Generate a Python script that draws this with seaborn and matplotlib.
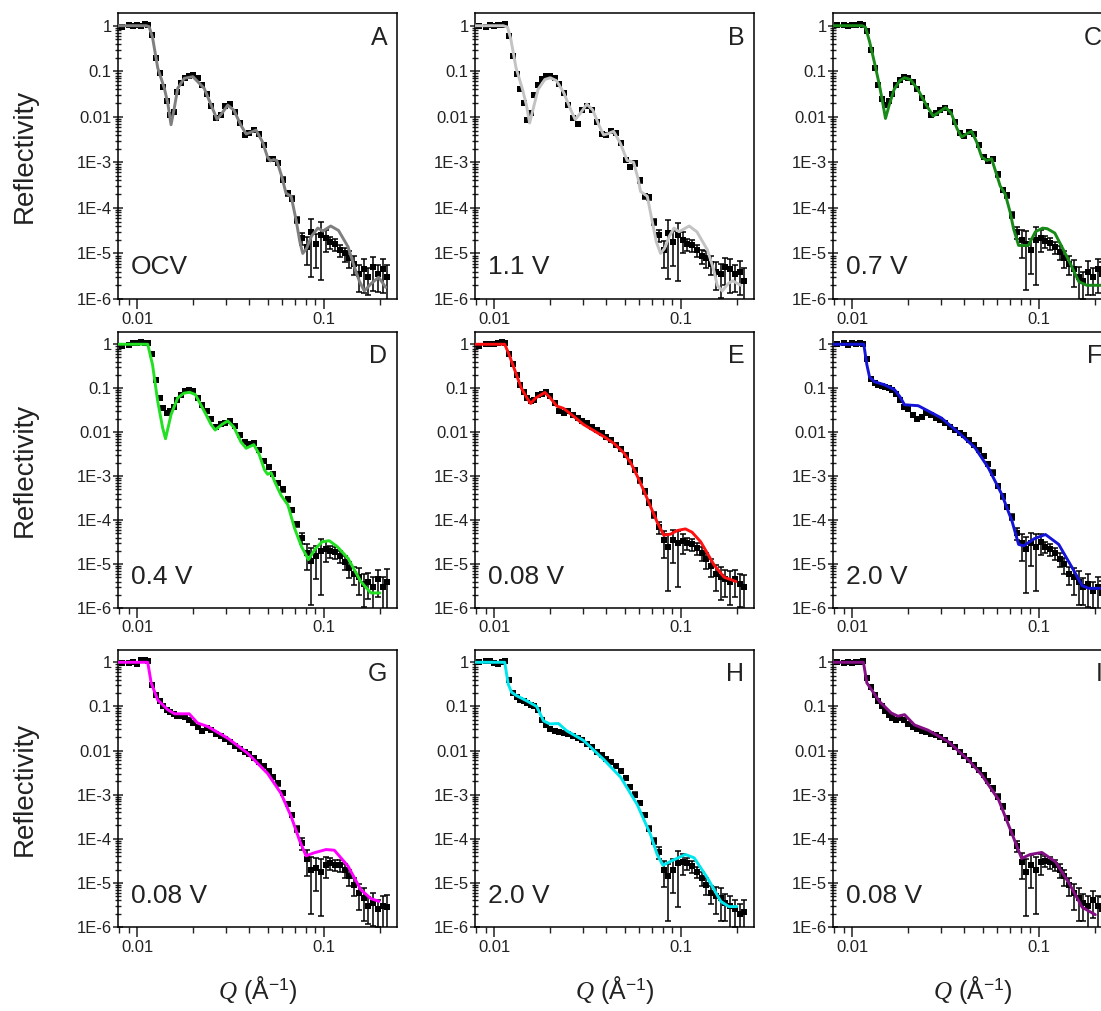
import numpy as np
import matplotlib
matplotlib.use("Agg")
import matplotlib.pyplot as plt
import matplotlib.ticker as mticker
import seaborn as sns

sns.set_theme(style="ticks")
plt.rcParams["font.family"] = ["Liberation Sans", "DejaVu Sans"]
plt.rcParams["mathtext.fontset"] = "custom"
plt.rcParams["mathtext.it"] = "Liberation Serif:italic"
plt.rcParams["mathtext.rm"] = "Liberation Sans"

# ---- data ----
LETTERS = ["A", "B", "C", "D", "E", "F", "G", "H", "I"]
VOLTAGES = ["OCV", "1.1 V", "0.7 V", "0.4 V", "0.08 V", "2.0 V", "0.08 V", "2.0 V", "0.08 V"]

Y_TICKS = [1e-6, 1e-5, 1e-4, 1e-3, 0.01, 0.1, 1]
Y_TICK_LABELS = ["1E-6", "1E-5", "1E-4", "1E-3", "0.01", "0.1", "1"]
X_TICKS = [0.01, 0.1]
X_TICK_LABELS = ["0.01", "0.1"]
X_MINOR = [0.008, 0.009, 0.02, 0.03, 0.04, 0.05, 0.06, 0.07, 0.08, 0.09, 0.2]
Y_MINOR = [m * 10.0 ** e for e in range(-6, 1) for m in range(2, 10)]

# measured Q points (shared by all panels)
Q_DATA = [0.0083, 0.0090, 0.0095, 0.0100, 0.0105, 0.0110, 0.0115, 0.0120, 0.0126, 0.0132,
          0.0138, 0.0144, 0.0150, 0.0157, 0.0164, 0.0172, 0.0180, 0.0190, 0.0200, 0.0212,
          0.0224, 0.0237, 0.0250, 0.0265, 0.0280, 0.0297, 0.0315, 0.0335, 0.0355, 0.0377,
          0.0400, 0.0425, 0.0450, 0.0478, 0.0507, 0.0538, 0.0570, 0.0605, 0.0642, 0.0680,
          0.0722, 0.0765, 0.0812, 0.0860, 0.0912, 0.0967, 0.1025, 0.1087, 0.1152, 0.1222,
          0.1295, 0.1373, 0.1455, 0.1543, 0.1636, 0.1734, 0.1838, 0.1949, 0.2066, 0.2190]
# relative error of each point
ERR_FRAC = [0.08, 0.08, 0.08, 0.08, 0.08, 0.08, 0.08, 0.06, 0.06, 0.06,
            0.06, 0.06, 0.06, 0.06, 0.06, 0.06, 0.06, 0.06, 0.06, 0.06,
            0.06, 0.08, 0.08, 0.08, 0.08, 0.08, 0.08, 0.08, 0.08, 0.08,
            0.08, 0.08, 0.08, 0.08, 0.08, 0.08, 0.12, 0.12, 0.12, 0.12,
            0.15, 0.3, 0.6, 0.9, 0.7, 0.9, 0.5, 0.3, 0.3, 0.3,
            0.35, 0.4, 0.45, 0.6, 0.7, 0.6, 0.7, 0.6, 0.7, 0.9]

R_A = [0.95, 1.02, 0.97, 1.05, 1.0, 1.08, 1.05, 0.62, 0.2, 0.09,
       0.045, 0.022, 0.011, 0.013, 0.035, 0.055, 0.072, 0.08, 0.082, 0.07,
       0.05, 0.032, 0.017, 0.0095, 0.011, 0.017, 0.019, 0.013, 0.0072, 0.004,
       0.0045, 0.0052, 0.0042, 0.0024, 0.0012, 0.00118, 0.00098, 0.00042, 0.00021, 0.00016,
       5.5e-5, 2.2e-5, 1.4e-5, 3e-5, 1.6e-5, 2.6e-5, 2.2e-5, 1.8e-5, 1.6e-5, 1.2e-5,
       1e-5, 8e-6, 6e-6, 3.5e-6, 4.5e-6, 3e-6, 5e-6, 3.5e-6, 4.5e-6, 3e-6]
R_B = [1.0, 0.95, 1.03, 0.98, 1.06, 1.02, 1.07, 0.6, 0.22, 0.085,
       0.04, 0.02, 0.0085, 0.012, 0.03, 0.05, 0.068, 0.078, 0.08, 0.072,
       0.052, 0.033, 0.018, 0.0095, 0.0068, 0.014, 0.017, 0.014, 0.0078, 0.0042,
       0.004, 0.0048, 0.0045, 0.0026, 0.0011, 0.0008, 0.00095, 0.0004, 0.00018, 0.00017,
       5e-5, 2.5e-5, 1.2e-5, 2.8e-5, 1.8e-5, 2.5e-5, 2e-5, 1.6e-5, 1.5e-5, 1.2e-5,
       9e-6, 8e-6, 6e-6, 4e-6, 3.5e-6, 5e-6, 4.5e-6, 3.5e-6, 4e-6, 2.5e-6]
R_C = [1.02, 1.05, 0.98, 1.06, 1.03, 1.08, 1.05, 0.75, 0.3, 0.12,
       0.05, 0.025, 0.018, 0.022, 0.032, 0.05, 0.065, 0.075, 0.072, 0.058,
       0.04, 0.026, 0.017, 0.011, 0.012, 0.014, 0.016, 0.013, 0.0075, 0.0045,
       0.0038, 0.0046, 0.0042, 0.0024, 0.0013, 0.00105, 0.0012, 0.00055, 0.00025, 0.00019,
       7e-5, 3e-5, 2e-5, 1.6e-5, 1.2e-5, 2e-5, 2.2e-5, 1.9e-5, 1.7e-5, 1.4e-5,
       1.1e-5, 8e-6, 6e-6, 4.5e-6, 3e-6, 2.5e-6, 4e-6, 3e-6, 4.5e-6, 3.5e-6]
R_D = [0.9, 0.95, 1.05, 1.08, 1.1, 1.05, 1.08, 0.6, 0.15, 0.06,
       0.035, 0.028, 0.03, 0.038, 0.055, 0.07, 0.085, 0.09, 0.085, 0.06,
       0.042, 0.03, 0.02, 0.013, 0.015, 0.016, 0.018, 0.014, 0.0085, 0.006,
       0.0055, 0.0058, 0.004, 0.0022, 0.0016, 0.0011, 0.0007, 0.0005, 0.0003, 0.00017,
       8e-5, 4e-5, 1.8e-5, 1.2e-5, 1.5e-5, 2e-5, 2.2e-5, 2e-5, 1.9e-5, 1.5e-5,
       1.1e-5, 8e-6, 6e-6, 5e-6, 3.5e-6, 4e-6, 3e-6, 4.5e-6, 3e-6, 4e-6]
R_E = [0.9, 1.0, 1.02, 1.0, 1.05, 1.1, 1.06, 0.6, 0.35, 0.2,
       0.12, 0.08, 0.06, 0.05, 0.055, 0.07, 0.075, 0.082, 0.068, 0.045,
       0.03, 0.028, 0.03, 0.025, 0.021, 0.018, 0.016, 0.013, 0.011, 0.0095,
       0.0078, 0.0066, 0.0052, 0.0042, 0.003, 0.0021, 0.0014, 0.0008, 0.00045, 0.00025,
       0.00013, 7e-5, 3.5e-5, 2.5e-5, 3.5e-5, 3e-5, 3.3e-5, 3e-5, 2.8e-5, 2.3e-5,
       1.8e-5, 1.3e-5, 9e-6, 6e-6, 5e-6, 4.5e-6, 4e-6, 4.5e-6, 3.5e-6, 3e-6]
R_F = [1.0, 1.05, 0.98, 1.07, 1.03, 1.08, 1.02, 0.45, 0.16, 0.13,
       0.12, 0.11, 0.105, 0.1, 0.09, 0.075, 0.055, 0.038, 0.033, 0.025,
       0.02, 0.022, 0.028, 0.025, 0.021, 0.019, 0.016, 0.013, 0.0115, 0.0095,
       0.0085, 0.0068, 0.0052, 0.004, 0.0028, 0.0019, 0.0012, 0.0006, 0.00035, 0.0002,
       0.00012, 5e-5, 3e-5, 2.2e-5, 3e-5, 2.5e-5, 3.2e-5, 2.5e-5, 2.2e-5, 1.8e-5,
       1.3e-5, 1e-5, 6e-6, 5e-6, 4e-6, 3e-6, 3.5e-6, 2.5e-6, 3e-6, 2.2e-6]
R_G = [0.95, 0.98, 1.0, 0.9, 1.1, 1.15, 1.05, 0.3, 0.18, 0.13,
       0.1, 0.085, 0.075, 0.068, 0.062, 0.06, 0.058, 0.05, 0.042, 0.035,
       0.028, 0.032, 0.029, 0.024, 0.021, 0.018, 0.016, 0.013, 0.011, 0.0095,
       0.0082, 0.0066, 0.0055, 0.0045, 0.0034, 0.0025, 0.0018, 0.0011, 0.00062, 0.00035,
       0.00017, 8e-5, 3.5e-5, 2e-5, 2.2e-5, 1.8e-5, 2.6e-5, 2.8e-5, 2.6e-5, 2.5e-5,
       2e-5, 1.4e-5, 9e-6, 6e-6, 4.5e-6, 3e-6, 3.5e-6, 2.5e-6, 3e-6, 2.8e-6]
R_H = [1.0, 1.05, 1.08, 0.95, 0.92, 1.0, 1.05, 0.4, 0.2, 0.16,
       0.14, 0.13, 0.12, 0.11, 0.1, 0.085, 0.05, 0.038, 0.03, 0.028,
       0.027, 0.025, 0.024, 0.021, 0.019, 0.017, 0.014, 0.012, 0.0095, 0.0078,
       0.0065, 0.0055, 0.0045, 0.0035, 0.0024, 0.0015, 0.001, 0.00065, 0.00035, 0.00017,
       9e-5, 5e-5, 2e-5, 1.4e-5, 2e-5, 2.8e-5, 3e-5, 2.8e-5, 2.4e-5, 1.8e-5,
       1.3e-5, 9e-6, 6e-6, 5e-6, 4.5e-6, 3.5e-6, 3e-6, 2.5e-6, 2e-6, 2.2e-6]
R_I = [1.0, 0.95, 1.0, 0.97, 1.02, 1.0, 1.05, 0.45, 0.28, 0.18,
       0.13, 0.1, 0.08, 0.065, 0.055, 0.05, 0.055, 0.05, 0.04, 0.035,
       0.03, 0.028, 0.026, 0.024, 0.022, 0.02, 0.017, 0.014, 0.012, 0.0095,
       0.0075, 0.006, 0.0048, 0.0037, 0.0028, 0.002, 0.0014, 0.0009, 0.00055, 0.0003,
       0.00014, 7e-5, 3e-5, 1.8e-5, 2.5e-5, 2e-5, 3e-5, 3.2e-5, 3e-5, 2.6e-5,
       2e-5, 1.4e-5, 9e-6, 6e-6, 4.5e-6, 3.5e-6, 3e-6, 4e-6, 3e-6, 2.5e-6]

# model fits
FIT_A_Q = [0.0080, 0.0112, 0.0116, 0.0121, 0.0129, 0.0140, 0.0146, 0.0152, 0.0158, 0.0165,
           0.0179, 0.0199, 0.0229, 0.0254, 0.0268, 0.0285, 0.0306, 0.0330, 0.0360, 0.0384,
           0.0408, 0.0434, 0.0470, 0.0500, 0.0518, 0.0540, 0.0560, 0.0595, 0.0628, 0.0669,
           0.0710, 0.0745, 0.0772, 0.0810, 0.0860, 0.0930, 0.0990, 0.1090, 0.1200, 0.1350,
           0.1450, 0.1550, 0.1650, 0.1800, 0.1970, 0.2150]
FIT_A_R = [1.0, 1.0, 0.95, 0.55, 0.118, 0.042, 0.02, 0.0067, 0.015, 0.042,
           0.07, 0.076, 0.042, 0.015, 0.0088, 0.012, 0.018, 0.014, 0.0065, 0.0042,
           0.0046, 0.0051, 0.0028, 0.0013, 0.00108, 0.00115, 0.0011, 0.0005, 0.00021, 0.00018,
           5.6e-5, 1.8e-5, 1.0e-5, 1.3e-5, 2.4e-5, 3.6e-5, 3.1e-5, 4.0e-5, 3.2e-5, 1.4e-5,
           5.5e-6, 2.5e-6, 1.5e-6, 2.2e-6, 3.0e-6, 1.8e-6]
FIT_B_Q = [0.0080, 0.0112, 0.0118, 0.0123, 0.0131, 0.0142, 0.0149, 0.0155, 0.0162, 0.0172,
           0.0187, 0.0200, 0.0216, 0.0236, 0.0258, 0.0272, 0.0290, 0.0314, 0.0338, 0.0365,
           0.0386, 0.0410, 0.0437, 0.0475, 0.0516, 0.0540, 0.0559, 0.0590, 0.0609, 0.0662,
           0.0700, 0.0740, 0.0780, 0.0820, 0.0870, 0.0920, 0.0980, 0.1110, 0.1220, 0.1390,
           0.1500, 0.1570, 0.1670, 0.1800, 0.1900, 0.2100]
FIT_B_R = [1.0, 1.0, 0.93, 0.5, 0.12, 0.04, 0.018, 0.0073, 0.015, 0.04,
           0.066, 0.072, 0.062, 0.034, 0.014, 0.0087, 0.012, 0.019, 0.014, 0.0065,
           0.004, 0.0043, 0.0048, 0.0026, 0.0011, 0.00105, 0.001, 0.00045, 0.00023, 0.00018,
           5.6e-5, 1.8e-5, 1.0e-5, 1.3e-5, 2.4e-5, 3.6e-5, 3.0e-5, 4.0e-5, 3.0e-5, 1.2e-5,
           4.5e-6, 2.0e-6, 1.5e-6, 2.2e-6, 2.5e-6, 2.0e-6]
FIT_C_Q = [0.0080, 0.0113, 0.0118, 0.0124, 0.0132, 0.0140, 0.0146, 0.0151, 0.0158, 0.0168,
           0.0180, 0.0191, 0.0205, 0.0225, 0.0250, 0.0272, 0.0295, 0.0317, 0.0340, 0.0365,
           0.0386, 0.0410, 0.0437, 0.0465, 0.0495, 0.0527, 0.0559, 0.0590, 0.0622, 0.0662,
           0.0703, 0.0733, 0.0780, 0.0880, 0.0960, 0.1050, 0.1110, 0.1220, 0.1450, 0.1640,
           0.1810, 0.2200]
FIT_C_R = [1.0, 1.0, 0.92, 0.45, 0.15, 0.05, 0.02, 0.0092, 0.018, 0.04,
           0.062, 0.072, 0.066, 0.04, 0.018, 0.0104, 0.013, 0.016, 0.012, 0.0055,
           0.0036, 0.0042, 0.0048, 0.0028, 0.0013, 0.0011, 0.0012, 0.0006, 0.0003, 0.0002,
           8e-5, 3.5e-5, 1.5e-5, 1.5e-5, 3.0e-5, 3.6e-5, 3.5e-5, 2.8e-5, 7e-6, 2.4e-6,
           2.0e-6, 2.0e-6]
FIT_D_Q = [0.0080, 0.0114, 0.0121, 0.0129, 0.0137, 0.0142, 0.0152, 0.0165, 0.0178, 0.0191,
           0.0205, 0.0229, 0.0249, 0.0262, 0.0285, 0.0306, 0.0330, 0.0360, 0.0384, 0.0405,
           0.0422, 0.0450, 0.0481, 0.0500, 0.0522, 0.0550, 0.0590, 0.0643, 0.0697, 0.0760,
           0.0828, 0.0900, 0.0980, 0.1070, 0.1180, 0.1350, 0.1580, 0.1790, 0.2000]
FIT_D_R = [1.0, 1.0, 0.34, 0.05, 0.0126, 0.0071, 0.025, 0.06, 0.077, 0.081,
           0.072, 0.03, 0.015, 0.0112, 0.015, 0.018, 0.013, 0.006, 0.0043, 0.0048,
           0.0052, 0.0032, 0.0014, 0.0011, 0.0012, 0.0007, 0.00037, 0.00022, 6.6e-5, 2.5e-5,
           1.26e-5, 2.2e-5, 3.2e-5, 3.4e-5, 2.5e-5, 1.35e-5, 4e-6, 2.2e-6, 2.2e-6]
FIT_E_Q = [0.0080, 0.0114, 0.0120, 0.0127, 0.0140, 0.0150, 0.0157, 0.0167, 0.0187, 0.0200,
           0.0217, 0.0235, 0.0260, 0.0301, 0.0340, 0.0386, 0.0440, 0.0495, 0.0540, 0.0585,
           0.0630, 0.0675, 0.0748, 0.0812, 0.0883, 0.0960, 0.1060, 0.1150, 0.1280, 0.1510,
           0.1710, 0.1980]
FIT_E_R = [1.0, 1.0, 0.6, 0.31, 0.1, 0.06, 0.045, 0.06, 0.08, 0.06,
           0.039, 0.035, 0.025, 0.015, 0.011, 0.008, 0.0055, 0.0034, 0.002, 0.001,
           0.0005, 0.00025, 9e-5, 4.5e-5, 4.8e-5, 5.8e-5, 6.3e-5, 5.3e-5, 3.2e-5, 9.5e-6,
           5e-6, 4e-6]
FIT_F_Q = [0.0080, 0.01155, 0.0120, 0.0124, 0.0132, 0.0149, 0.0169, 0.0180, 0.0191, 0.0226,
           0.0240, 0.0301, 0.0370, 0.0456, 0.0537, 0.0635, 0.0720, 0.0780, 0.0831, 0.0950,
           0.1087, 0.1280, 0.1510, 0.1710, 0.1860, 0.2000, 0.2250]
FIT_F_R = [1.0, 1.0, 0.34, 0.18, 0.14, 0.12, 0.092, 0.065, 0.042, 0.040,
           0.035, 0.021, 0.010, 0.0044, 0.00155, 0.00038, 9.3e-5, 2.8e-5, 2.6e-5, 3.8e-5,
           4.7e-5, 2.8e-5, 8.3e-6, 3.2e-6, 2.8e-6, 2.8e-6, 2.8e-6]
FIT_G_Q = [0.0080, 0.0114, 0.0119, 0.0129, 0.0146, 0.0159, 0.0190, 0.0211, 0.0239, 0.0306,
           0.0391, 0.0501, 0.0590, 0.0669, 0.0741, 0.0804, 0.0888, 0.1030, 0.1140, 0.1350,
           0.1580, 0.1790, 0.1980]
FIT_G_R = [1.0, 1.0, 0.34, 0.14, 0.084, 0.068, 0.068, 0.042, 0.035, 0.019,
           0.0087, 0.003, 0.00107, 0.00032, 9.3e-5, 4.1e-5, 4.8e-5, 5.7e-5, 5.5e-5, 2.4e-5,
           7e-6, 4.4e-6, 3.8e-6]
FIT_H_Q = [0.0080, 0.0114, 0.0119, 0.0124, 0.0132, 0.0149, 0.0169, 0.0184, 0.0199, 0.0221,
           0.0245, 0.0301, 0.0386, 0.0476, 0.0584, 0.0688, 0.0748, 0.0803, 0.0900, 0.1060,
           0.1180, 0.1390, 0.1640, 0.1810, 0.2000]
FIT_H_R = [1.0, 1.0, 0.32, 0.21, 0.175, 0.135, 0.1, 0.047, 0.04, 0.041,
           0.028, 0.017, 0.0063, 0.0025, 0.0006, 0.000126, 4.4e-5, 2.5e-5, 3.2e-5, 4.4e-5,
           3.7e-5, 1.3e-5, 3.8e-6, 2.9e-6, 2.9e-6]
FIT_I_Q = [0.0080, 0.0115, 0.0120, 0.0127, 0.0140, 0.0162, 0.0176, 0.0191, 0.0216, 0.0255,
           0.0327, 0.0420, 0.0495, 0.0610, 0.0719, 0.0810, 0.0900, 0.1040, 0.1230, 0.1450,
           0.1710, 0.2010]
FIT_I_R = [1.0, 1.0, 0.34, 0.24, 0.13, 0.071, 0.06, 0.065, 0.038, 0.029,
           0.016, 0.0061, 0.0028, 0.00076, 0.00013, 3.6e-5, 4.4e-5, 4.9e-5, 3e-5, 1e-5,
           2.8e-6, 1.9e-6]

FITS_Q = [FIT_A_Q, FIT_B_Q, FIT_C_Q, FIT_D_Q, FIT_E_Q, FIT_F_Q, FIT_G_Q, FIT_H_Q, FIT_I_Q]
FITS_R = [FIT_A_R, FIT_B_R, FIT_C_R, FIT_D_R, FIT_E_R, FIT_F_R, FIT_G_R, FIT_H_R, FIT_I_R]
DATA_R = [R_A, R_B, R_C, R_D, R_E, R_F, R_G, R_H, R_I]

# ---- style ----
FIT_COLORS = ["#7f7f7f", "#c3c3c3", "#178a17", "#22e022", "#ff1010",
              "#1414d8", "#ff00ff", "#00e6ee", "#840f84"]
W, H = 1101, 1011
COL_X = [118, 475, 833]
ROW_Y = [(13, 299), (332, 608), (650, 927)]
AX_W = 279

fig = plt.figure(figsize=(W / 100, H / 100), dpi=100)
q = np.array(Q_DATA)
frac = np.array(ERR_FRAC)

for i in range(9):
    r, c = divmod(i, 3)
    top, bot = ROW_Y[r]
    ax = fig.add_axes([COL_X[c] / W, 1 - bot / H, AX_W / W, (bot - top) / H])
    ax.set_xscale("log")
    ax.set_yscale("log")

    R = np.array(DATA_R[i])
    ax.errorbar(q, R, yerr=R * frac, fmt="none", ecolor="black",
                elinewidth=1.1, capsize=2, capthick=1.1, zorder=2)
    sns.scatterplot(x=q, y=R, ax=ax, color="black", marker="s", s=24,
                    linewidth=0, zorder=3)
    sns.lineplot(x=FITS_Q[i], y=FITS_R[i], ax=ax, color=FIT_COLORS[i],
                 linewidth=2.1, estimator=None, sort=False, zorder=4)

    ax.set_xlim(0.0079, 0.247)
    ax.set_ylim(1e-6, 1.9)
    ax.xaxis.set_major_locator(mticker.FixedLocator(X_TICKS))
    ax.xaxis.set_major_formatter(mticker.FixedFormatter(X_TICK_LABELS))
    ax.xaxis.set_minor_locator(mticker.FixedLocator(X_MINOR))
    ax.xaxis.set_minor_formatter(mticker.NullFormatter())
    ax.yaxis.set_major_locator(mticker.FixedLocator(Y_TICKS))
    ax.yaxis.set_major_formatter(mticker.FixedFormatter(Y_TICK_LABELS))
    ax.yaxis.set_minor_locator(mticker.FixedLocator(Y_MINOR))
    ax.yaxis.set_minor_formatter(mticker.NullFormatter())

    ax.tick_params(axis="x", which="major", direction="out", length=7, width=1.1,
                   labelsize=12, pad=2, colors="#222222", top=False)
    ax.tick_params(axis="x", which="minor", direction="out", length=4, width=1.0,
                   colors="#222222", top=False, bottom=True)
    ax.tick_params(axis="y", which="major", direction="inout", length=7, width=1.1,
                   labelsize=12, pad=1, colors="#222222", right=False)
    ax.tick_params(axis="y", which="minor", direction="inout", length=4.5, width=1.0,
                   colors="#222222", right=False, left=True)
    for sp in ax.spines.values():
        sp.set_visible(True)
        sp.set_color("black")
        sp.set_linewidth(1.1)
    ax.set_xlabel("")
    ax.set_ylabel("")
    ax.grid(False)

    ax.text(0.965, 0.955, LETTERS[i], transform=ax.transAxes, ha="right", va="top",
            fontsize=18, color="#222222")
    ax.text(0.045, 0.07, VOLTAGES[i], transform=ax.transAxes, ha="left", va="bottom",
            fontsize=19, color="#222222")

for top, bot in ROW_Y:
    fig.text(25 / W, 1 - (top + bot) / 2 / H, "Reflectivity", rotation=90,
             ha="center", va="center", fontsize=20, color="#222222")
for x0 in COL_X:
    fig.text((x0 + AX_W / 2) / W, 1 - 990 / H, r"$Q$ (Å$^{-1}$)",
             ha="center", va="center", fontsize=18, color="#222222")

fig.savefig("out.png", dpi=100)
